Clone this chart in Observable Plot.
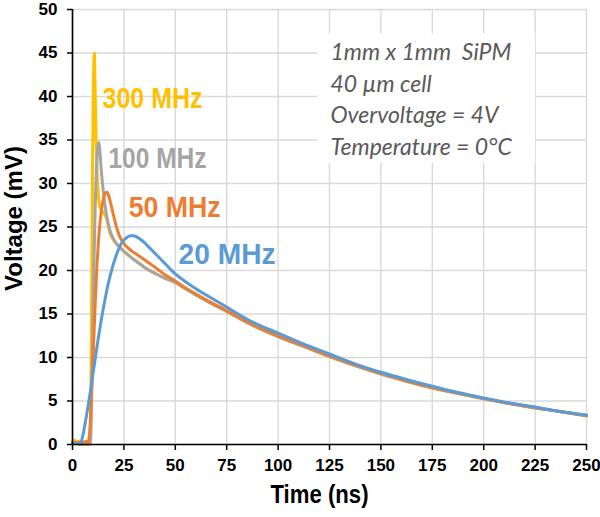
<!DOCTYPE html>
<html>
<head>
<meta charset="utf-8">
<script src="https://cdn.jsdelivr.net/npm/d3@7"></script>
<script src="https://cdn.jsdelivr.net/npm/@observablehq/plot@0.6"></script>
<style>
  html, body { margin: 0; padding: 0; background: #fff; }
  #chart { width: 600px; height: 517px; }
</style>
</head>
<body>
<div id="chart"></div>
<script>
// ---- data ----
const seriesNames = ["300 MHz", "100 MHz", "50 MHz", "20 MHz"];
const seriesColors = ["#FFC000", "#A5A5A5", "#ED7D31", "#5B9BD5"];

const xTicks = [0, 25, 50, 75, 100, 125, 150, 175, 200, 225, 250];
const yTicks = [0, 5, 10, 15, 20, 25, 30, 35, 40, 45, 50];

const time300 = [0, 1, 2, 3, 4, 6, 8, 8.6, 9.0, 9.4, 9.8, 10.2, 10.6, 11.0, 11.5, 12.0, 12.6, 13.3, 14.5, 16.0, 17.0, 17.8, 19, 20.5, 22.5, 25, 28, 32, 36, 40, 45, 50, 55, 60, 70, 75, 85, 100, 112, 125, 137, 150, 162, 175, 187, 200, 212, 225, 237, 250];
const volt300 = [0.4, 0.5, 0.3, 0.4, 0.1, 0, 0, 0.2, 8, 20, 33, 42, 45, 41, 35, 31, 28.5, 27.3, 26.8, 26.3, 25.6, 24.6, 23.9, 23.3, 22.8, 22.2, 21.6, 20.9, 20.2, 19.7, 19.1, 18.6, 17.9, 17.2, 15.9, 15.3, 14.0, 12.4, 11.3, 10.1, 9.1, 8.1, 7.3, 6.5, 5.9, 5.25, 4.75, 4.2, 3.8, 3.3];

const time100 = [0, 2, 4, 6, 8, 8.8, 9.5, 10.2, 11.0, 11.8, 12.5, 12.9, 13.4, 14.0, 14.8, 15.8, 17.0, 18.5, 20.0, 22, 25, 28, 32, 36, 40, 45, 50, 55, 60, 70, 75, 85, 100, 112, 125, 137, 150, 162, 175, 187, 200, 212, 225, 237, 250];
const volt100 = [0.2, 0.2, 0.1, 0.1, 0.1, 0.5, 8, 18, 27, 32.5, 34.5, 34.7, 33.5, 31.5, 29.5, 27.5, 25.8, 24.4, 23.6, 22.9, 22.2, 21.6, 20.9, 20.2, 19.7, 19.1, 18.6, 17.9, 17.2, 15.9, 15.3, 14.0, 12.4, 11.3, 10.1, 9.1, 8.1, 7.3, 6.5, 5.9, 5.25, 4.75, 4.2, 3.8, 3.3];

const time50 = [0, 2, 4, 6, 7, 7.8, 8.5, 9.2, 10, 11, 12, 13, 14, 15, 16, 16.8, 17.6, 18.5, 19.5, 20.5, 21.5, 23, 25, 27, 29, 31, 34, 37, 40, 45, 50, 55, 60, 70, 75, 85, 100, 112, 125, 137, 150, 162, 175, 187, 200, 212, 225, 237, 250];
const volt50 = [0.2, 0.2, 0.3, 0.3, 0.4, 0.2, 2, 5.5, 10, 16, 21, 24.5, 26.8, 28.2, 28.9, 29.0, 28.6, 27.8, 26.8, 25.8, 24.9, 23.9, 23.1, 22.6, 22.2, 21.9, 21.4, 20.9, 20.4, 19.5, 18.8, 18.0, 17.3, 16.0, 15.4, 14.1, 12.5, 11.4, 10.2, 9.2, 8.2, 7.35, 6.55, 5.95, 5.3, 4.75, 4.25, 3.8, 3.3];

const time20 = [0, 1, 2, 3, 3.8, 4.5, 5.5, 6.5, 7.5, 8.5, 10, 11.5, 13, 14.5, 16, 17.5, 19, 20.5, 22, 23.5, 25, 26.5, 28, 29.5, 31, 33, 35, 37.5, 40, 42.5, 45, 50, 55, 60, 70, 75, 85, 100, 112, 125, 137, 150, 162, 175, 187, 200, 212, 225, 237, 250];
const volt20 = [0.2, 0.2, 0.1, 0.1, 0, 0.5, 1.6, 2.9, 4.3, 5.8, 8.2, 10.6, 12.9, 15, 16.9, 18.6, 20.0, 21.2, 22.2, 23.0, 23.5, 23.8, 24.0, 24.0, 23.9, 23.6, 23.2, 22.6, 22.0, 21.4, 20.8, 19.6, 18.7, 17.9, 16.5, 15.8, 14.4, 12.8, 11.6, 10.4, 9.3, 8.3, 7.5, 6.7, 6.0, 5.35, 4.8, 4.3, 3.8, 3.4];

const noteLines = ["1mm x 1mm  SiPM", "40 \u00B5m cell", "Overvoltage = 4V", "Temperature = 0\u00B0C"];
const xTitle = "Time (ns)";
const yTitle = "Voltage (mV)";

// ---- assemble table for the library ----
const timeArrays = [time300, time100, time50, time20];
const voltArrays = [volt300, volt100, volt50, volt20];
const rows = seriesNames.flatMap((name, k) =>
  timeArrays[k].map((t, i) => ({series: name, t, v: voltArrays[k][i]})));

// ---- annotation layout (data units for placement, px for condensed text widths) ----
const labelLayout = {
  "300 MHz": {x: 14.6, y: 39.7, width: 100},
  "100 MHz": {x: 17.5, y: 32.8, width: 98},
  "50 MHz":  {x: 27.3, y: 27.2, width: 92},
  "20 MHz":  {x: 51.6, y: 21.8, width: 97}
};
const labels = seriesNames.map(name => ({series: name, x: labelLayout[name].x, y: labelLayout[name].y}));
const noteBox = [{x1: 119.2, x2: 225.2, y1: 32.3, y2: 47.2}];
const condensed = {"Time (ns)": 98};
seriesNames.forEach(n => condensed[n] = labelLayout[n].width);

const boldFont = "'Liberation Sans', Arial, sans-serif";

const chart = Plot.plot({
  width: 600,
  height: 517,
  marginLeft: 72,
  marginRight: 14,
  marginTop: 9,
  marginBottom: 73,
  style: {background: "#fff", color: "#000", fontFamily: boldFont},
  x: {domain: [0, 250]},
  y: {domain: [0, 50]},
  color: {domain: seriesNames, range: seriesColors},
  marks: [
    Plot.gridX(xTicks, {stroke: "#d9d9d9", strokeOpacity: 1, strokeWidth: 1.4}),
    Plot.gridY(yTicks, {stroke: "#d9d9d9", strokeOpacity: 1, strokeWidth: 1.4}),
    Plot.rect(noteBox, {x1: "x1", x2: "x2", y1: "y1", y2: "y2", fill: "#fff"}),
    Plot.line(rows, {x: "t", y: "v", z: "series", stroke: "series", strokeWidth: 3, curve: "monotone-x"}),
    Plot.ruleX([0], {stroke: "#000", strokeWidth: 1.6}),
    Plot.ruleY([0], {stroke: "#000", strokeWidth: 1.6}),
    Plot.axisX(xTicks, {tickSize: 6, tickPadding: 8, strokeWidth: 1.5, fontSize: 17, fontWeight: "bold", fontFamily: boldFont, label: null}),
    Plot.axisY(yTicks, {tickSize: 5, tickPadding: 10, strokeWidth: 1.5, fontSize: 17, fontWeight: "bold", fontFamily: boldFont, label: null}),
    Plot.text(labels, {x: "x", y: "y", text: "series", fill: "series", textAnchor: "start", lineAnchor: "middle", fontSize: 29, fontWeight: "bold", fontFamily: boldFont}),
    Plot.text([noteLines.join("\n")], {x: 125.5, y: 39.9, text: d => d, textAnchor: "start", lineAnchor: "middle", lineHeight: 1.375, fill: "#595959", fontSize: 23, fontStyle: "italic", fontFamily: "Lato, 'Open Sans', sans-serif"}),
    Plot.text([xTitle], {frameAnchor: "bottom", textAnchor: "middle", lineAnchor: "middle", dx: -10, dy: 50, text: d => d, fontSize: 25, fontWeight: "bold", fontFamily: boldFont, fill: "#000"}),
    Plot.text([yTitle], {frameAnchor: "left", textAnchor: "middle", lineAnchor: "middle", dx: -58, dy: -8.5, rotate: -90, text: d => d, fontSize: 24, fontWeight: "bold", fontFamily: boldFont, fill: "#000"})
  ]
});

// condense selected bold texts horizontally (the reference uses a narrow face)
d3.select(chart).selectAll("text").each(function() {
  const w = condensed[this.textContent];
  if (w) {
    this.setAttribute("textLength", w);
    this.setAttribute("lengthAdjust", "spacingAndGlyphs");
  }
});

document.getElementById("chart").appendChild(chart);
</script>
</body>
</html>
